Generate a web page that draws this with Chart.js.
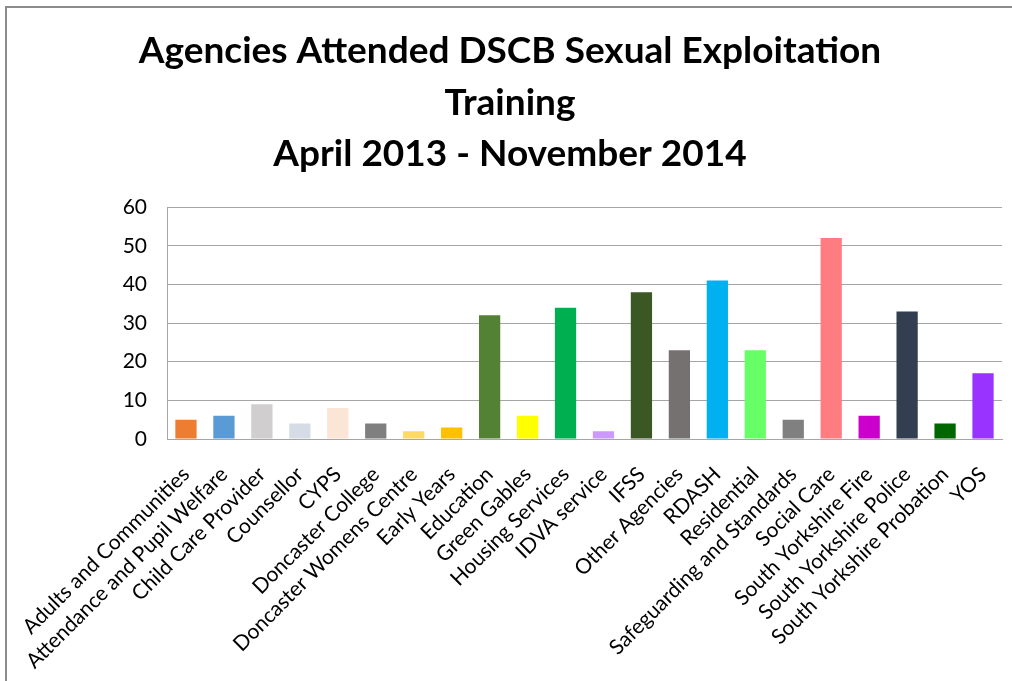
<!DOCTYPE html>
<html>
<head>
<meta charset="utf-8">
<script src="https://cdn.jsdelivr.net/npm/chart.js@4.4.1/dist/chart.umd.min.js"></script>
<style>
    body { margin: 0; background: #fff; }
    #wrap { position: relative; width: 1012px; height: 681px; }
    #frame {
        position: absolute; left: 5px; top: 6px; right: 0; bottom: 0;
        border-top: 2px solid #8c8c8c; border-left: 2px solid #8c8c8c;
        pointer-events: none;
    }
    canvas { position: absolute; left: 0; top: 0; }
</style>
</head>
<body>
<div id="wrap">
    <canvas id="chart" width="1012" height="681"></canvas>
    <div id="frame"></div>
</div>
<script>
const agencies = [
    'Adults and Communities', 'Attendance and Pupil Welfare', 'Child Care Provider', 'Counsellor',
    'CYPS', 'Doncaster College', 'Doncaster Womens Centre', 'Early Years', 'Education',
    'Green Gables', 'Housing Services', 'IDVA service', 'IFSS', 'Other Agencies', 'RDASH',
    'Residential', 'Safeguarding and Standards', 'Social Care', 'South Yorkshire Fire',
    'South Yorkshire Police', 'South Yorkshire Probation', 'YOS'
]
const attended = [5, 6, 9, 4, 8, 4, 2, 3, 32, 6, 34, 2, 38, 23, 41, 23, 5, 52, 6, 33, 4, 17]
const barColours = [
    '#ED7D31', '#5B9BD5', '#D0CECE', '#D6DCE5', '#FBE5D6', '#7F7F7F', '#FFD966', '#FFC000',
    '#548235', '#FFFF00', '#00B050', '#CC99FF', '#3B5724', '#767171', '#00B0F0', '#66FF66',
    '#808080', '#FF7C80', '#CC00CC', '#333F50', '#006600', '#9933FF'
]
const yTicks = [0, 10, 20, 30, 40, 50, 60]
const titleLines = ['Agencies Attended DSCB Sexual Exploitation', 'Training', 'April 2013 - November 2014']

const font = 'Lato'

new Chart(document.getElementById('chart').getContext('2d'), {
    type: 'bar',
    data: {
        labels: agencies,
        datasets: [{
            data: attended,
            backgroundColor: barColours,
            borderWidth: 0,
            barPercentage: 0.56,
            categoryPercentage: 1
        }]
    },
    options: {
        responsive: false,
        animation: false,
        layout: { padding: { left: 18, right: 10, top: 26, bottom: 8 } },
        plugins: {
            legend: { display: false },
            tooltip: { enabled: false },
            title: {
                display: true,
                text: titleLines,
                color: '#000',
                font: { family: font, size: 37, weight: 'bold', lineHeight: 1.38 },
                padding: { top: 0, bottom: 28 }
            }
        },
        scales: {
            x: {
                grid: { display: false },
                border: { color: '#a6a6a6' },
                ticks: {
                    color: '#000',
                    font: { family: font, size: 21 },
                    minRotation: 45,
                    maxRotation: 45,
                    autoSkip: false,
                    padding: 15
                },
                afterFit: scale => {
                    scale.paddingLeft = 0
                    scale.paddingRight = 0
                    scale.height = 234
                }
            },
            y: {
                min: 0,
                max: 60,
                afterBuildTicks: scale => {
                    scale.ticks = yTicks.map(v => ({ value: v }))
                },
                grid: { color: '#a6a6a6', drawTicks: false },
                border: { color: '#a6a6a6' },
                ticks: {
                    color: '#000',
                    font: { family: font, size: 21 },
                    padding: 20
                },
                afterFit: scale => {
                    scale.width = 149
                }
            }
        }
    }
})
</script>
</body>
</html>
